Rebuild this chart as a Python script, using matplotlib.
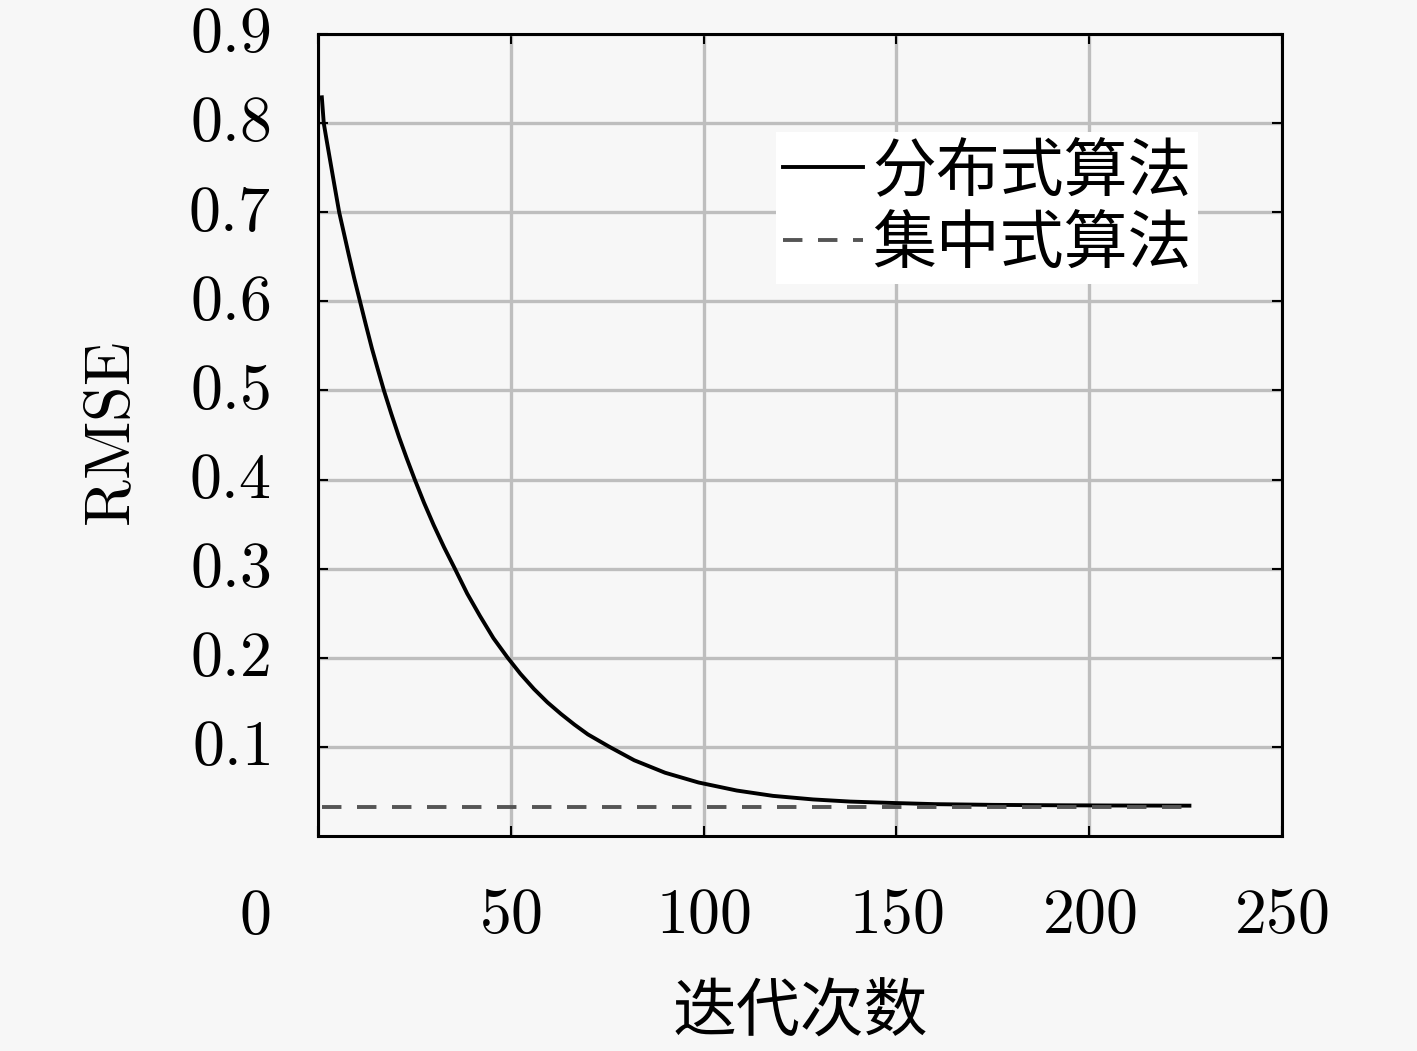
import numpy as np
import matplotlib
matplotlib.use("Agg")
import matplotlib.pyplot as plt

# RMSE vs iteration count
dist_iter = [1, 1.5, 2.2, 3, 4.2, 5.5, 6.7, 8, 9.4, 10.9, 12.4, 14, 15.5, 17.1, 19, 21,
             23, 25.1, 27.5, 30, 32.7, 35.5, 38.7, 42, 45.5, 49.2, 52.5, 56, 59.5, 63,
             66.5, 70, 75.6, 82, 90, 98.7, 108.6, 118, 128.4, 138, 149.3, 160, 175,
             190, 205, 226]
dist_rmse = [0.829, 0.800, 0.782, 0.762, 0.732, 0.700, 0.677, 0.652, 0.626, 0.600,
             0.574, 0.547, 0.524, 0.500, 0.474, 0.448, 0.424, 0.400, 0.374, 0.349,
             0.324, 0.300, 0.272, 0.247, 0.222, 0.200, 0.182, 0.165, 0.150, 0.137,
             0.125, 0.114, 0.100, 0.085, 0.071, 0.060, 0.051, 0.045, 0.041, 0.0386,
             0.037, 0.0357, 0.0349, 0.0345, 0.0342, 0.034]
cent_iter = [1, 226]
cent_rmse = [0.032, 0.032]

series_labels = ['分布式算法', '集中式算法']
xticks = [0, 50, 100, 150, 200, 250]
xtick_labels = ['0', '50', '100', '150', '200', '250']
yticks = [0.1, 0.2, 0.3, 0.4, 0.5, 0.6, 0.7, 0.8, 0.9]
ytick_labels = ['0.1', '0.2', '0.3', '0.4', '0.5', '0.6', '0.7', '0.8', '0.9']

plt.rcParams['font.family'] = ['Noto Sans CJK SC', 'DejaVu Sans']
plt.rcParams['mathtext.fontset'] = 'cm'

bg = '#f7f7f7'
fs = 46

fig = plt.figure(figsize=(14.17, 10.51), dpi=100, facecolor=bg)
ax = fig.add_axes([0.2244, 0.2046, 0.6803, 0.763])
ax.set_facecolor(bg)

ax.plot(dist_iter, dist_rmse, color='black', lw=2.8, label=series_labels[0], zorder=3)
ax.plot(cent_iter, cent_rmse, color='#555555', lw=2.8, dashes=(5, 4),
        label=series_labels[1], zorder=3)

ax.set_xlim(0, 250)
ax.set_ylim(0, 0.9)
ax.grid(True, color='#bebebe', lw=2.4)
ax.set_axisbelow(True)

tex = ['$%s$' % t for t in xtick_labels]
ax.set_xticks(xticks, [''] + tex[1:])
ax.set_yticks(yticks, ['$%s$' % t for t in ytick_labels])
ax.tick_params(direction='in', length=7, width=1.5, top=True, right=True,
               labelsize=fs, colors='black')
ax.tick_params(axis='x', pad=33)
ax.tick_params(axis='y', pad=34)
for lab in ax.get_yticklabels():
    lab.set_verticalalignment('center')
# the "0" label sits off at the corner, under the y labels
ax.annotate(tex[0], xy=(xticks[0], 0), xycoords=('data', 'axes fraction'),
            xytext=(-48, -47), textcoords='offset pixels', ha='right', va='top',
            fontsize=fs)

for s in ax.spines.values():
    s.set_linewidth(2.2)
    s.set_color('black')

ax.set_ylabel(r'$\mathrm{RMSE}$', fontsize=fs, labelpad=31)
ax.set_xlabel('迭代次数', fontsize=fs, labelpad=23)

leg = ax.legend(loc='upper right', bbox_to_anchor=(0.913, 0.878), fontsize=fs,
                frameon=True, fancybox=False, framealpha=1, facecolor='white',
                edgecolor='none', handlelength=1.25, handletextpad=0.15,
                labelspacing=0.1, borderpad=0.1, borderaxespad=0)

fig.savefig('out.png', dpi=100, facecolor=bg)
